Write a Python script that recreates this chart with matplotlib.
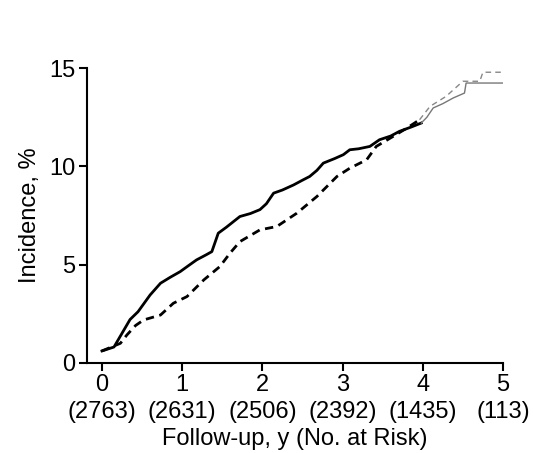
import numpy as np
import matplotlib.pyplot as plt

plt.rcParams['font.family'] = ['Liberation Sans', 'DejaVu Sans']

# follow-up (years) and cumulative incidence (%)
solid_x = [0.0, 0.15, 0.25, 0.35, 0.45, 0.6, 0.73, 0.85, 0.975, 1.08, 1.18, 1.3, 1.37,
           1.45, 1.55, 1.72, 1.85, 1.97, 2.05, 2.14, 2.25, 2.39, 2.5, 2.59, 2.68, 2.76,
           2.9, 3.01, 3.09, 3.2, 3.34, 3.46, 3.6, 3.71, 3.85, 3.98,
           4.05, 4.13, 4.25, 4.38, 4.52, 4.54, 5.0]
solid_y = [0.6, 0.8, 1.5, 2.2, 2.6, 3.45, 4.05, 4.35, 4.64, 4.95, 5.24, 5.5, 5.66,
           6.6, 6.9, 7.45, 7.6, 7.8, 8.1, 8.64, 8.8, 9.06, 9.3, 9.49, 9.8, 10.17,
           10.4, 10.6, 10.85, 10.9, 11.02, 11.36, 11.55, 11.79, 12.0, 12.21,
           12.5, 12.98, 13.2, 13.49, 13.74, 14.25, 14.25]
dash_x = [0.0, 0.23, 0.31, 0.42, 0.52, 0.73, 0.89, 1.06, 1.27, 1.47, 1.6, 1.72, 1.97,
          2.18, 2.43, 2.68, 2.93, 3.09, 3.30, 3.42, 3.63, 3.8, 3.96,
          4.09, 4.29, 4.5, 4.71, 4.75, 5.0]
dash_y = [0.6, 0.99, 1.41, 1.9, 2.18, 2.43, 3.03, 3.37, 4.22, 4.9, 5.6, 6.17, 6.77,
          6.94, 7.62, 8.47, 9.49, 9.91, 10.34, 11.02, 11.53, 11.95, 12.38,
          13.06, 13.57, 14.34, 14.34, 14.8, 14.8]
year_ticks = [0, 1, 2, 3, 4, 5]
at_risk = [2763, 2631, 2506, 2392, 1435, 113]

fig = plt.figure(figsize=(5.33, 4.53), dpi=100)
ax = fig.add_axes([0.1627, 0.1993, 0.7810, 0.6499])

# black part of each curve, then the thin grey tail where few are at risk
ns = 36
ax.plot(solid_x[:ns], solid_y[:ns], color='black', lw=2.0, solid_joinstyle='round')
ax.plot(solid_x[ns - 1:], solid_y[ns - 1:], color='#777777', lw=1.0)
nd = 23
ax.plot(dash_x[:nd], dash_y[:nd], color='black', lw=2.0, ls=(0, (3, 2)))
ax.plot(dash_x[nd - 1:], dash_y[nd - 1:], color='#888888', lw=1.0, ls=(0, (4, 3)))

ax.set_xlim(-0.19, 5.0)
ax.set_ylim(0, 15)
ax.set_yticks([0, 5, 10, 15])
ax.set_xticks(year_ticks)
ax.set_xticklabels([f"{t}\n({n})" for t, n in zip(year_ticks, at_risk)],
                   fontsize=17, linespacing=1.3)
ax.tick_params(axis='y', labelsize=17, width=1.5, length=6, pad=2)
ax.tick_params(axis='x', width=1.5, length=6, pad=2)
for s in ['top', 'right']:
    ax.spines[s].set_visible(False)
for s in ['left', 'bottom']:
    ax.spines[s].set_linewidth(1.5)

ax.set_ylabel("Incidence, %", fontsize=17, labelpad=6)
ax.set_xlabel("Follow-up, y (No. at Risk)", fontsize=17, labelpad=4)

fig.savefig("out.png", dpi=100)
